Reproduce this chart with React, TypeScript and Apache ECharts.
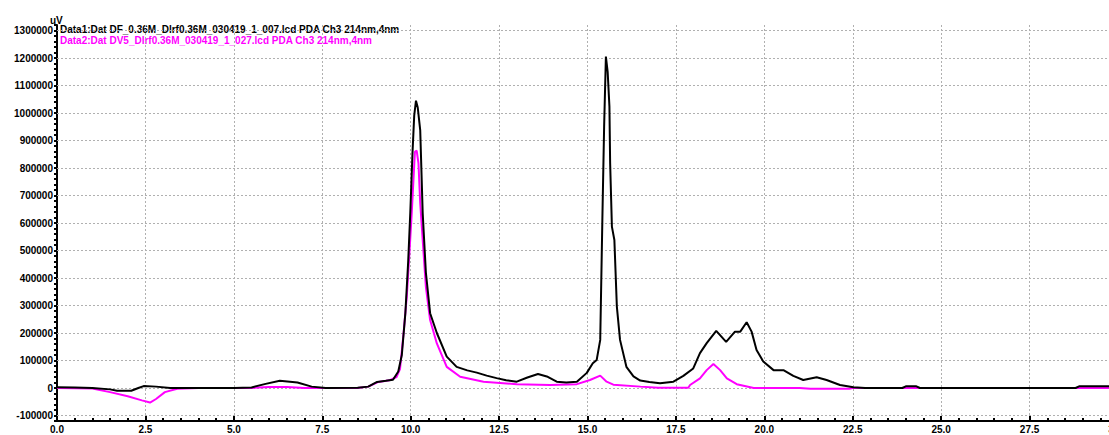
import React, { useEffect, useRef } from "react";
import * as echarts from "echarts";

const blackTime = [0, 0.5, 1.0, 1.5, 1.7, 2.1, 2.3, 2.45, 2.8, 3.2, 4.0, 5.0, 5.5, 5.9, 6.3, 6.8, 7.2, 7.6, 8.5, 8.8, 9.05, 9.3, 9.5, 9.65, 9.75, 9.85, 9.93, 9.99, 10.05, 10.1, 10.15, 10.2, 10.27, 10.34, 10.43, 10.55, 10.74, 11.02, 11.3, 11.6, 11.87, 12.15, 12.43, 12.7, 13.0, 13.3, 13.6, 13.85, 14.13, 14.4, 14.7, 14.98, 15.15, 15.26, 15.36, 15.42, 15.47, 15.52, 15.57, 15.62, 15.64, 15.69, 15.76, 15.83, 15.92, 16.1, 16.3, 16.49, 16.75, 17.05, 17.43, 17.71, 17.99, 18.18, 18.37, 18.64, 18.92, 19.17, 19.32, 19.5, 19.64, 19.78, 19.97, 20.26, 20.54, 20.82, 21.1, 21.48, 21.76, 22.14, 22.52, 22.85, 23.9, 24.0, 24.3, 24.4, 28.8, 28.9, 30];
const blackValue = [3000, 2000, 0, -5000, -10000, -10000, 0, 7000, 5000, 0, 0, 0, 2000, 15000, 26000, 20000, 5000, 0, 1000, 5000, 22000, 26000, 30000, 60000, 120000, 272000, 460000, 640000, 850000, 990000, 1045000, 1020000, 938000, 636000, 420000, 272000, 200000, 114000, 77000, 64000, 56000, 45000, 36000, 28000, 23000, 38000, 51000, 42000, 23000, 20000, 23000, 55000, 90000, 102000, 175000, 611000, 950000, 1205000, 1150000, 1023000, 818000, 587000, 538000, 296000, 175000, 77000, 42000, 27000, 22000, 17000, 23000, 44000, 71000, 127000, 163000, 208000, 168000, 205000, 205000, 239000, 205000, 138000, 96000, 65000, 65000, 44000, 29000, 39000, 29000, 11000, 3000, 0, 0, 6000, 6000, 0, 0, 6000, 6000];

const magentaTime = [0, 1.0, 1.5, 2.0, 2.4, 2.63, 2.8, 3.05, 3.4, 4.0, 5.5, 6.0, 6.5, 7.0, 8.5, 8.8, 9.09, 9.4, 9.6, 9.7, 9.8, 9.89, 9.96, 10.03, 10.12, 10.17, 10.22, 10.27, 10.34, 10.43, 10.55, 10.74, 11.02, 11.4, 12.06, 13.0, 13.94, 14.7, 15.07, 15.36, 15.54, 15.73, 16.5, 17.0, 17.85, 17.9, 18.18, 18.37, 18.56, 18.75, 18.94, 19.22, 19.7, 21.0, 21.3, 22.4, 22.5, 30];
const magentaValue = [0, -2000, -15000, -30000, -45000, -53000, -40000, -15000, -3000, 0, 0, 4000, 4000, 0, 0, 5000, 22000, 28000, 40000, 70000, 200000, 332000, 480000, 636000, 859000, 863000, 818000, 673000, 538000, 368000, 247000, 162000, 77000, 41000, 23000, 14000, 11000, 14000, 29000, 45000, 23000, 12000, 5000, 1000, 1000, 11000, 35000, 65000, 87000, 65000, 35000, 14000, 0, 0, -3000, -3000, 0, 0];

const yGridValues = [-100000, 0, 100000, 200000, 300000, 400000, 500000, 600000, 700000, 800000, 900000, 1000000, 1100000, 1200000, 1300000];

const blackLabel = "Data1:Dat DF_0.36M_Dlrf0.36M_030419_1_007.lcd PDA Ch3 214nm,4nm";
const magentaLabel = "Data2:Dat DV5_Dlrf0.36M_030419_1_027.lcd PDA Ch3 214nm,4nm";
const yUnit = "uV";

const FONT = "'Liberation Sans', Arial, sans-serif";

export default function App() {
  const ref = useRef<HTMLDivElement>(null);
  useEffect(() => {
    if (!ref.current) return;
    const chart = echarts.init(ref.current, undefined, { renderer: "svg" });
    const blackData = blackTime.map((t, i) => [t, blackValue[i]]);
    const magentaData = magentaTime.map((t, i) => [t, magentaValue[i]]);
    chart.setOption({
      animation: false,
      backgroundColor: "#ffffff",
      grid: { left: 57, right: 22, top: 25, bottom: 14, containLabel: false },
      xAxis: {
        type: "value",
        min: 0,
        max: 30,
        interval: 2.5,
        axisLine: { show: true, onZero: false, lineStyle: { color: "#000", width: 2 } },
        axisTick: { show: true, inside: true, length: 5, lineStyle: { color: "#000", width: 2 } },
        minorTick: { show: true, splitNumber: 5, length: 3, lineStyle: { color: "#000", width: 2 } },
        splitLine: { show: true, lineStyle: { color: "#b0b0b0", type: [2, 2], width: 1 } },
        axisLabel: {
          color: "#000",
          fontFamily: FONT,
          fontWeight: "bold",
          fontSize: 10,
          margin: 3,
          formatter: (v: number) => v.toFixed(1),
        },
      },
      yAxis: {
        type: "value",
        min: -120000,
        max: 1320000,
        interval: 20000,
        axisLine: { show: true, onZero: false, lineStyle: { color: "#000", width: 2 } },
        axisTick: { show: true, inside: false, length: 3, lineStyle: { color: "#000", width: 2 } },
        splitLine: { show: false },
        axisLabel: {
          color: "#000",
          fontFamily: FONT,
          fontWeight: "bold",
          fontSize: 10,
          margin: 4,
          formatter: (v: number) => (Math.round(v) % 100000 === 0 ? String(Math.round(v)) : ""),
        },
      },
      graphic: [
        { type: "text", left: 50, top: 15, style: { text: yUnit, fill: "#000", font: `bold 10px ${FONT}` } },
        { type: "text", left: 60, top: 24, style: { text: blackLabel, fill: "#000", font: `bold 10px ${FONT}` } },
        { type: "text", left: 60, top: 35, style: { text: magentaLabel, fill: "#ff00ff", font: `bold 10px ${FONT}` } },
      ],
      series: [
        {
          type: "line",
          data: magentaData,
          showSymbol: false,
          symbol: "none",
          lineStyle: { color: "#ff00ff", width: 2 },
          z: 3,
          markLine: {
            silent: true,
            symbol: "none",
            label: { show: false },
            lineStyle: { color: "#b0b0b0", type: [2, 2], width: 1 },
            data: yGridValues.map((v) => ({ yAxis: v })),
            z: 1,
          },
        },
        {
          type: "line",
          data: blackData,
          showSymbol: false,
          symbol: "none",
          lineStyle: { color: "#000000", width: 2 },
          z: 4,
        },
      ],
    });
    return () => chart.dispose();
  }, []);
  return (
    <div style={{ position: "fixed", left: 0, top: 0, width: 1109, height: 435, overflow: "hidden", background: "#fff" }}>
      <div ref={ref} style={{ width: 1140, height: 435 }} />
    </div>
  );
}
